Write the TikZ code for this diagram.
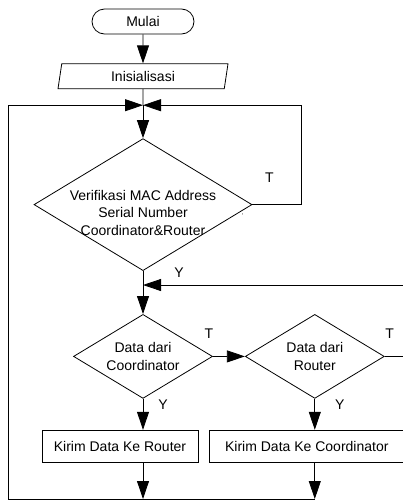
\documentclass[tikz,border=0pt]{standalone}
\usepackage{fontspec}
\setmainfont{Liberation Sans}
\usetikzlibrary{arrows.meta,positioning,calc,shapes.geometric}

\begin{document}
\begin{tikzpicture}[node distance=30pt, line width=0.8pt,
    font=\fontsize{14pt}{17.5pt}\selectfont,
    terminal/.style={draw, rounded corners=12.5pt, minimum width=102pt, minimum height=25pt, inner sep=0pt},
    io/.style={draw, trapezium, trapezium left angle=70, trapezium right angle=110, trapezium stretches body, minimum width=170pt, minimum height=25pt, inner sep=0pt},
    decision/.style={draw, diamond, inner sep=0pt},
    process/.style={draw, minimum height=32pt, inner sep=0pt},
    flow/.style={-{Triangle[length=18pt,width=12pt]}},
    lbl/.style={inner sep=0pt}]
    \useasboundingbox (0,0) rectangle (402pt,-501pt);

    \node[terminal] (mulai) at (143pt,-21.5pt) {Mulai};
    \node[io, below=29pt of mulai] (init) {Inisialisasi};
    \coordinate[below=16pt of init] (j1);
    \node[decision, minimum width=218pt, minimum height=132pt, below=33pt of j1] (verif) {};
    \node[lbl, align=center] (verif-txt) at ($(verif.center)+(0,-8pt)$) {Verifikasi MAC Address\\Serial Number\\Coordinator\&Router};
    \coordinate[below=14pt of verif] (j2);
    \node[decision, minimum width=139pt, minimum height=84pt, below=29pt of j2] (dc) {};
    \node[lbl, align=center] (dc-txt) at (dc) {Data dari\\Coordinator};
    \node[decision, minimum width=139pt, minimum height=84pt, right=32pt of dc] (dr) {};
    \node[lbl, align=center] (dr-txt) at (dr) {Data dari\\Router};
    \node[process, minimum width=156pt, below=31pt of dc, xshift=-23pt] (kr) {Kirim Data Ke Router};
    \node[process, minimum width=194pt, right=11pt of kr] (kc) {Kirim Data Ke Coordinator};

    % loop corners
    \coordinate (e1) at (dc |- 0,-499pt);
    \coordinate (e2) at (e1 -| dr);
    \coordinate[left=135pt of e1] (lft);
    \coordinate[right=49pt of verif.east] (rgt);
    \coordinate[right=23pt of dr.east] (rgt2);

    \draw[flow] (mulai) -- (init);
    \draw (init) -- (j1);
    \draw[flow] (j1) -- (verif);
    \draw[flow] (verif.east) -- (rgt) |- (j1);
    \draw (verif) -- (j2);
    \draw[flow] (j2) -- (dc);
    \draw[flow] (dc) -- (dr);
    \draw[flow] (dr.east) -- (rgt2) |- (j2);
    \draw[flow] (dc) -- (dc |- kr.north);
    \draw[flow] (dr) -- (dr |- kc.north);
    \draw[flow] (dc |- kr.south) -- (e1);
    \draw[flow] (kc.south -| dr) -- (e2);
    \draw[flow] (e2) -- (lft) |- (j1);

    % T / Y labels
    \node[lbl] (t1) at ($(verif.east)+(17pt,27pt)$) {T};
    \node[lbl] (y1) at ($(j2)+(36pt,12pt)$) {Y};
    \node[lbl] (t2) at ($(dc.east)+(-4pt,23pt)$) {T};
    \node[lbl] (y2) at ($(dc.south)+(20pt,-6pt)$) {Y};
    \node[lbl] (t3) at ($(dr.east)+(5pt,23pt)$) {T};
    \node[lbl] (y3) at ($(dr.south)+(25pt,-6pt)$) {Y};
    \node[lbl, font=\fontsize{6pt}{6pt}\selectfont] (tick) at ($(verif.east)+(-10pt,-10pt)$) {,};
\end{tikzpicture}
\end{document}
